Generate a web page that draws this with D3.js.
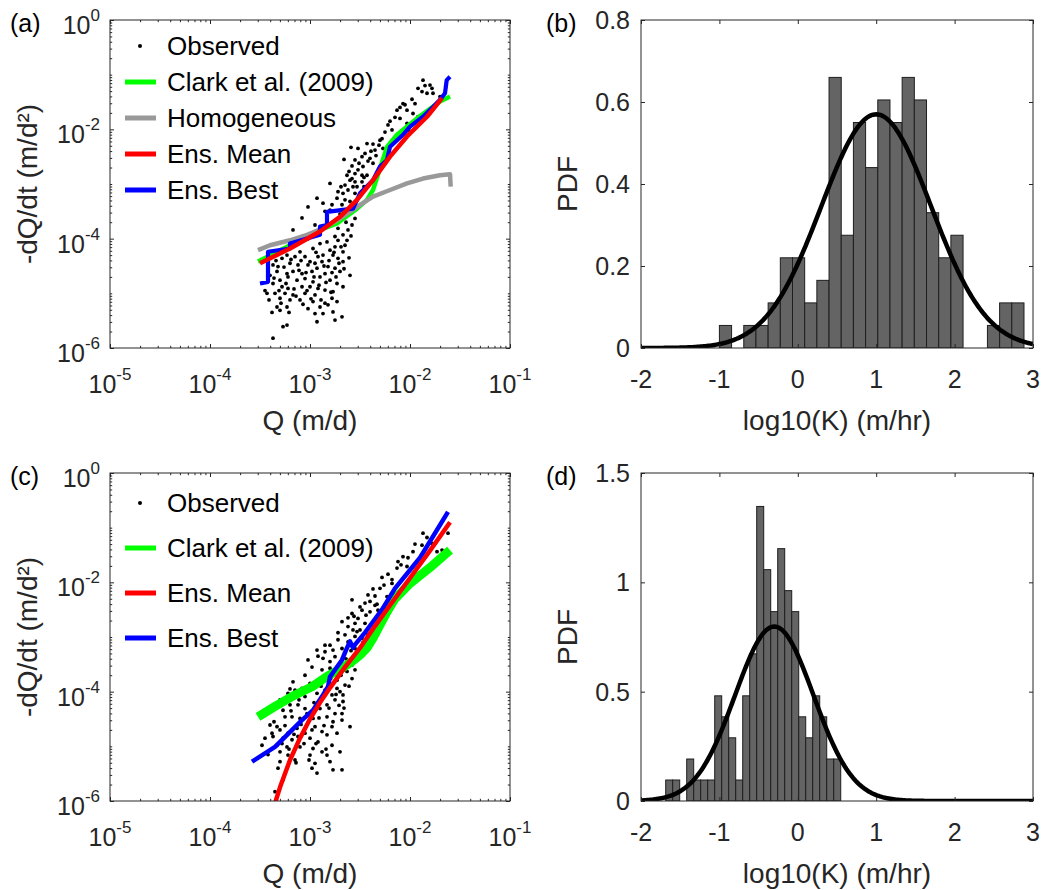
<!DOCTYPE html>
<html><head><meta charset="utf-8">
<script src="https://cdn.jsdelivr.net/npm/d3@7"></script>
<style>
body{margin:0;background:#fff}
svg{display:block}
text{font-family:"Liberation Sans",Arial,Helvetica,sans-serif}
</style>
</head><body>
<svg id="chart" width="1054" height="890"></svg>
<script>
// ---------------- DATA (log10 values) ----------------
// Panel (a): observed recession points [log10 Q, log10 -dQ/dt]
const obsA = [
[-2.59,-2.33],[-2.43,-2.26],[-2.37,-2.27],[-2.31,-2.29],[-2.27,-2.35],[-2.35,-2.38],[-2.45,-2.44],[-2.48,-2.50],[-2.40,-2.53],[-2.55,-2.56],
[-2.37,-2.62],[-2.58,-2.67],[-2.47,-2.68],[-2.52,-2.74],[-2.61,-2.77],[-2.55,-2.81],[-2.48,-2.84],[-2.43,-2.84],[-2.63,-2.84],[-2.60,-2.93],
[-2.55,-2.96],[-2.48,-2.96],[-2.80,-2.99],[-2.65,-3.02],[-2.57,-3.05],[-2.62,-3.11],[-2.72,-3.14],[-2.67,-3.17],[-2.55,-3.17],[-2.50,-3.20],
[-2.93,-3.26],[-2.73,-3.26],[-2.65,-3.29],[-2.60,-3.32],[-2.87,-3.35],[-3.02,-3.42],[-2.78,-3.38],[-2.68,-3.38],[-2.55,-3.38],[-2.62,-3.51],
[-2.80,-3.48],[-2.83,-3.60],[-2.55,-3.63],[-3.17,-3.84],[-2.58,-3.75],[-2.62,-3.84],[-2.72,-3.81],[-2.67,-3.93],[-2.75,-3.96],[-2.72,-4.03],
[-2.63,-4.03],[-2.65,-4.12],[-2.75,-4.15],[-2.80,-4.21],[-2.67,-4.24],[-3.02,-4.00],[-2.90,-4.09],[-2.83,-4.06],[-2.97,-4.18],[-3.10,-4.24],
[-2.87,-4.30],[-2.92,-4.33],[-3.05,-4.33],[-3.15,-4.33],[-3.23,-4.30],[-3.28,-4.36],[-2.77,-4.30],[-2.72,-4.36],[-2.67,-4.42],[-2.88,-4.42],
[-2.95,-4.45],[-3.02,-4.48],[-3.12,-4.48],[-3.20,-4.45],[-3.32,-4.51],[-3.37,-4.48],[-2.93,-4.54],[-2.82,-4.51],[-2.75,-4.54],[-2.70,-4.60],
[-2.98,-4.60],[-3.08,-4.64],[-3.17,-4.60],[-3.23,-4.64],[-3.33,-4.60],[-3.40,-4.67],[-2.60,-4.67],[-2.85,-4.64],[-2.90,-4.70],[-3.05,-4.73],
[-3.13,-4.76],[-3.22,-4.70],[-3.30,-4.76],[-3.37,-4.82],[-2.80,-4.76],[-2.73,-4.82],[-2.97,-4.79],[-2.67,-4.88],[-3.28,-4.88],[-3.22,-4.91],
[-3.08,-4.88],[-3.00,-4.88],[-2.92,-4.91],[-2.85,-4.94],[-2.77,-4.97],[-3.35,-5.00],[-3.25,-5.00],[-3.17,-5.03],[-3.05,-5.00],[-2.95,-5.03],
[-2.78,-5.09],[-3.43,-5.00],[-3.30,-5.09],[-3.20,-5.12],[-3.10,-5.12],[-2.97,-5.15],[-2.85,-5.18],[-2.73,-5.15],[-3.33,-5.25],[-3.23,-5.25],
[-3.02,-5.28],[-2.90,-5.25],[-2.82,-5.21],[-3.30,-5.31],[-2.95,-5.37],[-2.87,-5.37],[-2.77,-5.34],[-2.68,-5.43],[-2.75,-5.49],[-3.27,-5.61],
[-3.23,-5.58],[-2.93,-5.52],[-3.37,-5.82],
[-1.87,-1.10],[-1.80,-1.19],[-1.78,-1.25],[-1.88,-1.31],[-1.83,-1.34],[-1.77,-1.34],[-1.70,-1.40],[-1.95,-1.53],[-2.07,-1.53],[-2.03,-1.65],
[-2.13,-1.65],[-1.97,-1.71],[-1.92,-1.77],[-2.10,-1.80],[-2.03,-1.89],[-2.00,-2.04],[-2.22,-1.92],[-2.18,-2.01],[-2.28,-2.17],
[-3.45,-4.95],[-3.41,-5.12],[-3.38,-5.35],[-3.36,-4.72],[-3.34,-4.40],[-3.31,-4.95],[-3.29,-5.18],[-3.26,-4.52],[-3.24,-4.82],[-3.21,-5.35],
[-3.19,-4.38],[-3.16,-4.92],[-3.14,-5.05],[-3.11,-4.58],[-3.09,-4.40],[-3.07,-5.20],[-3.04,-4.62],[-3.03,-4.95],[-3.00,-4.42],[-2.99,-5.10],
[-2.96,-4.70],[-2.94,-4.25],[-2.91,-4.85],[-2.89,-5.12],[-2.86,-4.50],[-2.84,-4.80],[-2.81,-4.40],[-2.79,-4.98],[-2.78,-4.62],[-2.76,-4.25],
[-2.74,-4.70],[-2.71,-4.45],[-2.69,-4.15],[-2.66,-4.55],[-2.64,-3.70],[-2.61,-4.35],[-2.59,-3.95],[-2.57,-3.50],[-2.53,-3.05],[-2.51,-2.62],
[-2.46,-2.88],[-2.42,-2.58],[-2.39,-2.40],[-2.34,-2.48],[-2.30,-2.20],[-2.25,-2.05],[-2.20,-1.85],[-2.15,-1.78],[-2.10,-1.60],[-2.05,-1.55],
[-1.98,-1.45],[-1.92,-1.25],[-1.85,-1.20],[-2.70,-3.55],[-2.76,-3.70],[-2.85,-3.50],[-2.95,-3.75],[-3.08,-3.62],[-2.69,-3.05],[-2.58,-2.90],
[-2.46,-3.05],[-2.52,-2.35],[-2.66,-2.55]
];
const clarkA = [[-3.52,-4.42],[-3.2,-4.12],[-2.9,-3.84],[-2.73,-3.72],[-2.53,-3.45],[-2.43,-3.29],[-2.37,-3.11],[-2.23,-2.32],[-2.13,-2.10],[-1.93,-1.80],[-1.70,-1.49],[-1.60,-1.40]];
const homogA = [[-3.52,-4.21],[-3.4,-4.12],[-3.2,-4.03],[-3.03,-3.93],[-2.87,-3.81],[-2.7,-3.63],[-2.53,-3.42],[-2.37,-3.23],[-2.2,-3.11],[-2.03,-2.99],[-1.87,-2.90],[-1.7,-2.84],[-1.6,-2.82],[-1.593,-3.05]];
const meanA = [[-3.5,-4.45],[-3.2,-4.18],[-2.9,-3.87],[-2.7,-3.60],[-2.53,-3.29],[-2.37,-2.93],[-2.2,-2.50],[-2.03,-2.13],[-1.83,-1.77],[-1.68,-1.43]];
const bestA = [[-3.5,-4.82],[-3.42,-4.79],[-3.42,-4.24],[-3.2,-4.18],[-3.2,-4.09],[-2.9,-3.93],[-2.9,-3.78],[-2.83,-3.75],[-2.83,-3.51],[-2.57,-3.45],[-2.5,-3.17],[-2.37,-2.93],[-2.3,-2.68],[-2.23,-2.56],[-2.2,-2.32],[-2.07,-2.10],[-2.0,-1.95],[-1.87,-1.77],[-1.77,-1.59],[-1.7,-1.46],[-1.65,-1.34],[-1.633,-1.10],[-1.6,-1.04]];

// Panel (c)
const obsC = [
[-2.28,-1.91],[-2.18,-2.02],[-2.30,-2.11],[-2.42,-2.23],[-2.35,-2.25],[-2.23,-2.26],[-2.58,-2.32],[-2.45,-2.38],[-2.35,-2.42],[-2.48,-2.51],
[-2.40,-2.54],[-2.32,-2.51],[-2.58,-2.57],[-2.52,-2.66],[-2.68,-2.72],[-2.55,-2.75],[-2.45,-2.75],[-2.62,-2.81],[-2.50,-2.87],[-2.57,-2.87],
[-2.65,-2.96],[-2.55,-2.99],[-2.48,-3.02],[-2.72,-3.05],[-2.62,-3.09],[-2.80,-3.15],[-2.68,-3.21],[-2.55,-3.21],[-2.42,-2.96],[-2.93,-3.24],
[-2.85,-3.27],[-2.77,-3.24],[-2.75,-3.36],[-3.02,-3.42],[-2.87,-3.39],[-2.80,-3.45],[-2.58,-3.51],[-2.70,-3.57],[-2.55,-3.60],[-2.63,-3.63],
[-2.80,-3.57],[-2.88,-3.60],[-3.17,-3.82],[-3.00,-3.85],[-2.90,-3.79],[-2.73,-3.79],[-2.58,-3.76],[-2.65,-3.88],[-2.73,-3.94],[-2.70,-4.00],
[-2.78,-4.06],[-2.67,-4.06],[-3.08,-3.94],[-3.15,-3.97],[-3.22,-4.03],[-3.05,-4.09],[-2.93,-4.03],[-2.85,-3.97],[-2.75,-4.15],[-2.67,-4.18],
[-2.83,-4.24],[-2.90,-4.31],[-3.12,-4.24],[-3.05,-4.31],[-3.20,-4.24],[-3.27,-4.34],[-3.18,-4.46],[-3.25,-4.46],[-3.10,-4.49],[-2.97,-4.49],
[-2.83,-4.46],[-2.75,-4.40],[-2.68,-4.40],[-2.68,-4.52],[-2.60,-4.64],[-3.40,-4.61],[-3.33,-4.64],[-3.30,-4.70],[-3.22,-4.76],[-3.13,-4.67],
[-3.05,-4.76],[-2.95,-4.64],[-2.88,-4.73],[-2.78,-4.64],[-2.73,-4.76],[-3.37,-4.82],[-3.27,-4.85],[-3.18,-4.88],[-3.12,-4.82],[-3.00,-4.85],
[-2.92,-4.92],[-2.83,-4.79],[-3.33,-4.98],[-3.23,-5.01],[-3.10,-5.01],[-2.97,-5.04],[-2.88,-5.10],[-2.78,-4.98],[-2.70,-5.10],[-3.30,-5.10],
[-3.22,-5.16],[-3.00,-5.16],[-2.83,-5.16],[-3.30,-5.28],[-3.15,-5.25],[-2.95,-5.31],[-2.80,-5.28],[-2.98,-5.40],[-2.93,-5.49],[-2.77,-5.43],
[-2.68,-5.43],[-3.27,-5.61],[-3.35,-5.83],[-3.48,-4.98],[-3.38,-4.76],
[-1.87,-1.10],[-1.62,-1.10],[-1.68,-1.41],[-1.78,-1.29],[-1.88,-1.32],[-2.07,-1.53],[-2.12,-1.62],[-2.03,-1.71],[-2.13,-1.74],[-1.97,-1.44],[-1.73,-1.44],
[-3.45,-4.85],[-3.42,-5.15],[-3.36,-4.55],[-3.32,-5.40],[-3.28,-4.95],[-3.25,-4.62],[-3.21,-5.05],[-3.19,-4.35],[-3.16,-4.78],[-3.14,-5.30],
[-3.11,-4.15],[-3.09,-4.60],[-3.06,-4.95],[-3.03,-4.40],[-3.01,-5.25],[-2.98,-4.70],[-2.96,-4.20],[-2.94,-4.95],[-2.91,-4.48],[-2.89,-3.90],
[-2.86,-4.62],[-2.84,-5.05],[-2.81,-4.30],[-2.79,-3.75],[-2.77,-4.55],[-2.74,-4.05],[-2.71,-4.25],[-2.69,-3.70],[-2.66,-4.30],[-2.64,-3.40],
[-2.61,-3.90],[-2.59,-3.25],[-2.56,-2.62],[-2.53,-2.90],[-2.50,-2.45],[-2.47,-3.10],[-2.44,-2.60],[-2.40,-2.35],[-2.37,-2.12],[-2.33,-2.40],
[-2.26,-2.05],[-2.22,-1.85],[-2.18,-1.95],[-2.09,-1.68],[-2.02,-1.55],[-1.95,-1.30],[-1.83,-1.18],[-2.98,-3.55],[-3.05,-3.70],[-2.92,-3.35],
[-2.85,-3.15],[-2.72,-2.92],[-2.62,-2.65],[-3.20,-3.95],[-3.30,-4.15]
];
const clarkC = [[-3.52,-4.46],[-3.35,-4.27],[-3.15,-4.06],[-2.98,-3.91],[-2.83,-3.72],[-2.68,-3.57],[-2.58,-3.45],[-2.5,-3.33],[-2.43,-3.2],[-2.37,-3.02],[-2.3,-2.78],[-2.23,-2.54],[-2.15,-2.3],[-2.0,-2.02],[-1.8,-1.73],[-1.6,-1.41]];
const meanC = [[-3.36,-6.1],[-3.3,-5.75],[-3.2,-5.25],[-3.1,-4.85],[-3.0,-4.5],[-2.9,-4.2],[-2.8,-3.93],[-2.65,-3.55],[-2.5,-3.2],[-2.35,-2.8],[-2.2,-2.42],[-2.0,-1.92],[-1.8,-1.42],[-1.6,-0.9]];
const bestC = [[-3.58,-5.28],[-3.35,-5.01],[-3.08,-4.52],[-2.97,-4.34],[-2.88,-4.09],[-2.82,-3.91],[-2.80,-3.73],[-2.75,-3.60],[-2.68,-3.42],[-2.64,-3.24],[-2.60,-3.08],[-2.57,-3.2],[-2.55,-3.14],[-2.45,-2.92],[-2.28,-2.5],[-2.15,-2.11],[-1.9,-1.55],[-1.62,-0.71]];

// Histograms: first bin edge, bin width, PDF heights
const binStartB = -1.0, binWidthB = 0.1554;
const pdfB = [0.055,0,0.055,0.055,0.11,0.22,0.22,0.11,0.165,0.66,0.275,0.55,0.44,0.605,0.55,0.66,0.605,0.33,0.22,0.275,0,0,0.055,0.11,0.11];
const fitB = {mean: 1.0, sd: 0.70};
const binStartD = -1.685, binWidthD = 0.0893;
const pdfD = [0.096,0.096,0,0.192,0.096,0.096,0.096,0.481,0.385,0.289,0.096,0.481,0.673,1.347,1.058,0.866,1.154,0.962,0.866,0.385,0.289,0.481,0.385,0.192,0.192];
const fitD = {mean: -0.30, sd: 0.50};

// Tick values and labels
const logXTicks = [-5,-4,-3,-2,-1];
const logYTicks = [-6,-4,-2,0];
const histXTicks = [-2,-1,0,1,2,3];
const yTicksB = [0,0.2,0.4,0.6,0.8];
const yTickLabelsB = ["0","0.2","0.4","0.6","0.8"];
const yTicksD = [0,0.5,1,1.5];
const yTickLabelsD = ["0","0.5","1","1.5"];

// ---------------- DRAWING ----------------
const AX = '#262626';
const svg = d3.select('#chart');
const defs = svg.append('defs');

function addClip(id, b){
  defs.append('clipPath').attr('id',id).append('rect')
    .attr('x',b.l).attr('y',b.t).attr('width',b.r-b.l).attr('height',b.b-b.t);
}
function tickAxis(scale, orient, pos, values, size){
  const gen = {bottom:d3.axisBottom, top:d3.axisTop, left:d3.axisLeft, right:d3.axisRight}[orient];
  const g = svg.append('g')
    .attr('transform', (orient==='bottom'||orient==='top') ? `translate(0,${pos})` : `translate(${pos},0)`)
    .call(gen(scale).tickValues(values).tickSize(-size).tickFormat(''));
  g.select('.domain').remove();
  g.selectAll('line').attr('stroke',AX).attr('stroke-width',1);
}
function powLabel(x, y, exp, anchor){
  const t = svg.append('text').attr('x',x).attr('y',y).attr('text-anchor',anchor)
    .attr('fill',AX).style('font-size','25px');
  t.append('tspan').text('10');
  t.append('tspan').attr('dy',-13).style('font-size','17px').text(exp);
}
function frame(b){
  svg.append('rect').attr('x',b.l).attr('y',b.t).attr('width',b.r-b.l).attr('height',b.b-b.t)
    .attr('fill','none').attr('stroke',AX).attr('stroke-width',1);
}

function logPanel(b, obs, series, legend, legendY, letter, clipId){
  const x = d3.scaleLog().domain([1e-5,1e-1]).range([b.l,b.r]);
  const y = d3.scaleLog().domain([1e-6,1]).range([b.b,b.t]);
  addClip(clipId, b);
  const plot = svg.append('g').attr('clip-path',`url(#${clipId})`);
  plot.selectAll('circle').data(obs).join('circle')
    .attr('cx',d=>x(10**d[0])).attr('cy',d=>y(10**d[1])).attr('r',1.9).attr('fill','#000');
  const line = d3.line().x(d=>x(10**d[0])).y(d=>y(10**d[1]));
  series.forEach(s=>{
    plot.append('path').datum(s.data).attr('d',line).attr('fill','none')
      .attr('stroke',s.color).attr('stroke-width',s.width).attr('stroke-linejoin','round');
  });
  const xMinor = d3.range(-5,-1).flatMap(e=>d3.range(2,10).map(m=>m*10**e));
  const yMinor = d3.range(-6,0).flatMap(e=>d3.range(2,10).map(m=>m*10**e)).concat([1e-5,1e-3,1e-1]);
  const xMaj = logXTicks.map(e=>10**e), yMaj = logYTicks.map(e=>10**e);
  tickAxis(x,'bottom',b.b,xMaj,4); tickAxis(x,'top',b.t,xMaj,4);
  tickAxis(x,'bottom',b.b,xMinor,2.2); tickAxis(x,'top',b.t,xMinor,2.2);
  tickAxis(y,'left',b.l,yMaj,4); tickAxis(y,'right',b.r,yMaj,4);
  tickAxis(y,'left',b.l,yMinor,2.2); tickAxis(y,'right',b.r,yMinor,2.2);
  frame(b);
  logXTicks.forEach(e=>powLabel(x(10**e), b.b+45, String(e), 'middle'));
  logYTicks.forEach(e=>powLabel(b.l-10, y(10**e)+14, String(e), 'end'));
  svg.append('text').attr('x',(b.l+b.r)/2).attr('y',b.b+82).attr('text-anchor','middle')
    .attr('fill',AX).style('font-size','28px').text('Q (m/d)');
  svg.append('text').attr('transform',`translate(${b.l-73},${(b.t+b.b)/2}) rotate(-90)`)
    .attr('text-anchor','middle').attr('fill',AX).style('font-size','28px').text('-dQ/dt (m/d²)');
  svg.append('text').attr('x',b.l-100).attr('y',b.t+12).attr('fill','#000').style('font-size','25px').text(letter);
  legend.forEach((r,i)=>{
    const ry = legendY[i];
    if(r.type==='dot') svg.append('circle').attr('cx',b.l+30).attr('cy',ry).attr('r',2).attr('fill','#000');
    else svg.append('line').attr('x1',b.l+15).attr('x2',b.l+46).attr('y1',ry).attr('y2',ry)
      .attr('stroke',r.color).attr('stroke-width',5);
    svg.append('text').attr('x',b.l+57).attr('y',ry+9).attr('fill','#000').style('font-size','26px').text(r.label);
  });
}

function histPanel(b, start, width, heights, yMax, yTicks, yLabels, fit, letter, clipId){
  const x = d3.scaleLinear().domain([-2,3]).range([b.l,b.r]);
  const y = d3.scaleLinear().domain([0,yMax]).range([b.b,b.t]);
  addClip(clipId, b);
  const plot = svg.append('g').attr('clip-path',`url(#${clipId})`);
  const bins = heights.map((h,i)=>({x0:start+i*width, x1:start+(i+1)*width, h})).filter(d=>d.h>0);
  plot.selectAll('rect').data(bins).join('rect')
    .attr('x',d=>x(d.x0)).attr('width',d=>x(d.x1)-x(d.x0))
    .attr('y',d=>y(d.h)).attr('height',d=>y(0)-y(d.h))
    .attr('fill','#646464').attr('stroke','#1e1e1e').attr('stroke-width',1);
  const pdf = v => Math.exp(-0.5*((v-fit.mean)/fit.sd)**2)/(fit.sd*Math.sqrt(2*Math.PI));
  const pts = d3.range(-2,3.0001,0.02).map(v=>[v,pdf(v)]);
  plot.append('path').datum(pts).attr('d',d3.line().x(d=>x(d[0])).y(d=>y(d[1])))
    .attr('fill','none').attr('stroke','#000').attr('stroke-width',4.5);
  tickAxis(x,'bottom',b.b,histXTicks,4); tickAxis(x,'top',b.t,histXTicks,4);
  tickAxis(y,'left',b.l,yTicks,4); tickAxis(y,'right',b.r,yTicks,4);
  frame(b);
  histXTicks.forEach(v=>svg.append('text').attr('x',x(v)).attr('y',b.b+40).attr('text-anchor','middle')
    .attr('fill',AX).style('font-size','25px').text(String(v)));
  yTicks.forEach((v,i)=>svg.append('text').attr('x',b.l-11).attr('y',y(v)+9).attr('text-anchor','end')
    .attr('fill',AX).style('font-size','25px').text(yLabels[i]));
  svg.append('text').attr('x',(b.l+b.r)/2).attr('y',b.b+82).attr('text-anchor','middle')
    .attr('fill',AX).style('font-size','28px').text('log10(K) (m/hr)');
  svg.append('text').attr('transform',`translate(${b.l-64},${(b.t+b.b)/2}) rotate(-90)`)
    .attr('text-anchor','middle').attr('fill',AX).style('font-size','28px').text('PDF');
  svg.append('text').attr('x',b.l-95).attr('y',b.t+12).attr('fill','#000').style('font-size','25px').text(letter);
}

const boxA = {l:110,r:510,t:20,b:348};
const boxB = {l:641,r:1033,t:20,b:348};
const boxC = {l:110,r:510,t:473,b:801};
const boxD = {l:641,r:1033,t:473,b:801};

const GREEN='#00ff00', GRAY='#999999', RED='#ff0000', BLUE='#0000ff';

logPanel(boxA, obsA, [
  {data:clarkA, color:GREEN, width:4.5},
  {data:homogA, color:GRAY, width:4.5},
  {data:bestA, color:BLUE, width:4.2},
  {data:meanA, color:RED, width:4.5}
], [
  {type:'dot', label:'Observed'},
  {color:GREEN, label:'Clark et al. (2009)'},
  {color:GRAY, label:'Homogeneous'},
  {color:RED, label:'Ens. Mean'},
  {color:BLUE, label:'Ens. Best'}
], [46,82,118,154,190], '(a)', 'clipA');

histPanel(boxB, binStartB, binWidthB, pdfB, 0.8, yTicksB, yTickLabelsB, fitB, '(b)', 'clipB');

logPanel(boxC, obsC, [
  {data:clarkC, color:GREEN, width:9},
  {data:bestC, color:BLUE, width:4.5},
  {data:meanC, color:RED, width:4.5}
], [
  {type:'dot', label:'Observed'},
  {color:GREEN, label:'Clark et al. (2009)'},
  {color:RED, label:'Ens. Mean'},
  {color:BLUE, label:'Ens. Best'}
], [503,548,593,638], '(c)', 'clipC');

histPanel(boxD, binStartD, binWidthD, pdfD, 1.5, yTicksD, yTickLabelsD, fitD, '(d)', 'clipD');
</script>
</body></html>
